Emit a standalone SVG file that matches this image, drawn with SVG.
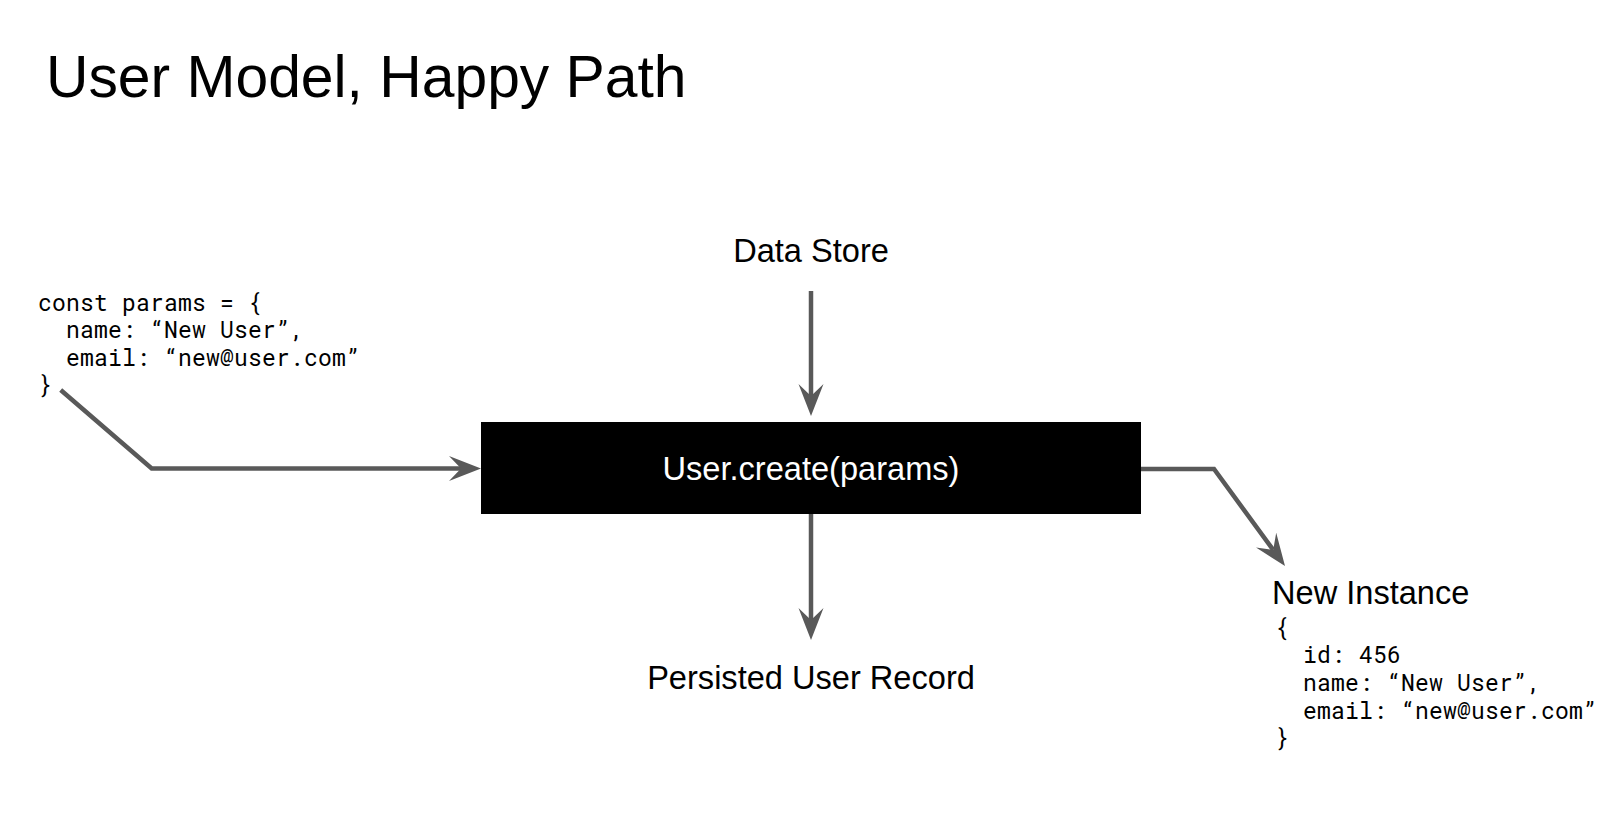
<svg xmlns="http://www.w3.org/2000/svg" width="1621" height="826" viewBox="0 0 1621 826">
  <style>
    .sans { font-family: "Liberation Sans", Arial, sans-serif; fill: #000; }
    .label { font-size: 32.6px; }
    .mono { font-family: "Roboto Mono", "DejaVu Sans Mono", monospace; font-size: 23px; letter-spacing: 0.2px; fill: #000; }
    .conn { fill: none; stroke: #595959; stroke-width: 4.5; stroke-linejoin: miter; }
  </style>
  <defs>
    <marker id="arrow" markerUnits="userSpaceOnUse" markerWidth="40" markerHeight="30" viewBox="0 -15 40 30" refX="12" refY="0" orient="auto">
      <path d="M0,-12.5 L32,0 L0,12.5 L12,0 Z" fill="#595959"/>
    </marker>
  </defs>
  <rect width="1621" height="826" fill="#fff"/>

  <g id="title">
    <text class="sans" x="46" y="97" font-size="58.8">User Model, Happy Path</text>
  </g>

  <g id="params">
    <text class="mono" x="38" y="310.5">const params = {</text>
    <text class="mono" x="66" y="338">name: “New User”,</text>
    <text class="mono" x="66" y="365.5">email: “new@user.com”</text>
    <text class="mono" x="38" y="393">}</text>
  </g>

  <g id="data-store">
    <text class="sans label" x="811" y="262" text-anchor="middle">Data Store</text>
  </g>

  <g id="user-create">
    <rect x="481" y="422" width="660" height="92" fill="#000"/>
    <text class="label" x="811" y="480" text-anchor="middle" font-family="Liberation Sans, Arial, sans-serif" fill="#fff">User.create(params)</text>
  </g>

  <g id="persisted">
    <text class="sans label" x="811" y="689" text-anchor="middle">Persisted User Record</text>
  </g>

  <g id="new-instance">
    <text class="sans label" x="1272" y="604">New Instance</text>
    <text class="mono" x="1275" y="635.5">{</text>
    <text class="mono" x="1303" y="663.2">id: 456</text>
    <text class="mono" x="1303" y="690.9">name: “New User”,</text>
    <text class="mono" x="1303" y="718.6">email: “new@user.com”</text>
    <text class="mono" x="1275" y="746.3">}</text>
  </g>

  <g id="connectors">
    <path class="conn" d="M60.7,390 L151.7,468.5 L461,468.5" marker-end="url(#arrow)"/>
    <path class="conn" d="M811,291 L811,396" marker-end="url(#arrow)"/>
    <path class="conn" d="M811,514 L811,620" marker-end="url(#arrow)"/>
    <path class="conn" d="M1141,469 L1214,469 L1273.2,549.9" marker-end="url(#arrow)"/>
  </g>
</svg>
